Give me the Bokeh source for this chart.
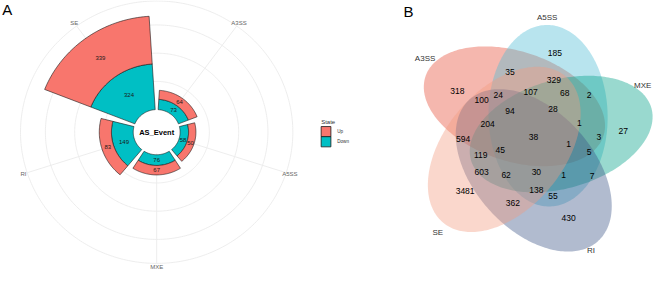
import numpy as np
from bokeh.plotting import figure
from bokeh.models import Range1d
from bokeh.embed import file_html
from bokeh.resources import INLINE
from bokeh.core.properties import value

# ---------------- data ----------------
# Panel A: AS events by type and direction
categories = ["A3SS", "A5SS", "MXE", "RI", "SE"]
up_counts = [64, 50, 67, 83, 339]
down_counts = [73, 58, 76, 149, 324]
state_names = ["Up", "Down"]
state_colors = ["#F8766D", "#00BFC4"]
radial_breaks = [200, 400, 600]
radial_limit = 770

# Panel B: five-set Venn diagram
venn_sets = ["A3SS", "A5SS", "MXE", "RI", "SE"]
venn_fill = ["#E64B35", "#4DBBD5", "#00A087", "#3C5488", "#F39B7F"]
venn_counts = [185, 35, 329, 318, 107, 68, 2, 24, 100, 94, 28, 204, 1, 27, 3,
               594, 38, 1, 5, 119, 45, 603, 62, 30, 1, 7, 3481, 138, 55, 362, 430]

# ---------------- layout (reference pixel space) ----------------
venn_label_xy = [(568, 57), (522, 77), (567, 85), (468, 97), (543, 98), (578, 99),
                 (603, 102), (510, 101), (493, 107), (522, 119), (566, 116),
                 (499, 132), (593, 131), (638, 140), (613, 146), (474, 148),
                 (546, 146), (582, 154), (603, 162), (492, 165), (512, 160),
                 (493, 183), (518, 187), (549, 183), (577, 186), (606, 188),
                 (476, 204), (549, 203), (566, 209), (525, 216), (582, 232)]
venn_set_label_xy = {"A3SS": (435, 63), "A5SS": (560, 19), "MXE": (658, 91),
                     "RI": (605, 267), "SE": (448, 248)}
# ellipse geometry per set: centre x, centre y, semi-major, semi-minor, axis angle
venn_shape = {"A3SS": (526.5, 113.5, 96.5, 58.0, 290.0),
              "A5SS": (561.0, 123.5, 96.5, 61.0, -1.0),
              "MXE": (574.4, 143.0, 96.5, 57.5, 72.6),
              "RI": (546.3, 181.6, 100.0, 62.0, 140.0),
              "SE": (516.1, 159.3, 100.0, 62.0, 217.5)}

FONT = value("Liberation Sans")

W, H = 653, 269
p = figure(width=W, height=H, x_range=Range1d(0, 669), y_range=Range1d(287, 1),
           output_backend="svg", toolbar_location=None, min_border=0,
           x_axis_type=None, y_axis_type=None)
p.grid.visible = False
p.outline_line_color = None
p.background_fill_color = "white"
p.border_fill_color = "white"

# ---------------- Panel A: polar stacked bars ----------------
CX, CY = 160.0, 141.0
R0, K = 24.0, 0.150


def rad(v):
    return R0 + K * np.asarray(v, dtype=float)


def pt(theta_deg, r):
    t = np.radians(theta_deg)
    return CX + r * np.sin(t), CY - r * np.cos(t)


step = 360.0 / len(categories)
half = 0.45 * step
r_out = float(rad(radial_limit))

tt = np.linspace(0, 360, 361)
gx, gy = [], []
for b in radial_breaks + [radial_limit]:
    x, y = pt(tt, float(rad(b)))
    gx.append(list(x)); gy.append(list(y))
for i in range(len(categories)):
    th = (i + 0.5) * step
    x, y = pt(np.array([th, th]), np.array([0.0, r_out]))
    gx.append(list(x)); gy.append(list(y))
p.multi_line(gx, gy, line_color="#EBEBEB", line_width=0.9)


def wedge(th, rin, rout):
    a = np.linspace(th - half, th + half, 48)
    xo, yo = pt(a, rout)
    xi, yi = pt(a[::-1], rin)
    return list(np.r_[xo, xi]), list(np.r_[yo, yi])


wx, wy, wc = [], [], []
lx, ly, lt = [], [], []
for i, cat in enumerate(categories):
    th = (i + 0.5) * step
    d, u = down_counts[i], up_counts[i]
    for lo, hi, col, val in [(0, d, state_colors[1], d), (d, d + u, state_colors[0], u)]:
        xs, ys = wedge(th, float(rad(lo)), float(rad(hi)))
        wx.append(xs); wy.append(ys); wc.append(col)
        mx, my = pt(th, float(rad((lo + hi) / 2.0)))
        lx.append(float(mx)); ly.append(float(my)); lt.append(str(val))
p.patches(wx, wy, fill_color=wc, line_color="#1A1A1A", line_width=0.6)

hx, hy = pt(tt, R0 - 1.5)
p.patch(list(hx), list(hy), fill_color="white", line_color=None)

p.text(lx, ly, text=lt, text_font=FONT, text_font_size="6px", text_color="#1A1A1A",
       text_align="center", text_baseline="middle")

cx_l, cy_l = [], []
for i in range(len(categories)):
    x, y = pt((i + 0.5) * step, r_out + 4)
    cx_l.append(float(x)); cy_l.append(float(y))
p.text(cx_l, cy_l, text=categories, text_font=FONT, text_font_size="6px",
       text_color="#666666", text_align="center", text_baseline="middle")

p.text([CX], [CY], text=["AS_Event"], text_font=FONT, text_font_size="7.5px",
       text_font_style="bold", text_color="black", text_align="center",
       text_baseline="middle")

LX, LY = 328.5, 130.0
p.text([LX], [LY], text=["State"], text_font=FONT, text_font_size="6px",
       text_color="#333333", text_align="left", text_baseline="middle")
key_h = 10.8
for j, (nm, col) in enumerate(zip(state_names, state_colors)):
    top = 135.0 + j * key_h
    p.quad(left=[LX], right=[LX + 10], top=[top], bottom=[top + key_h],
           fill_color=col, line_color="#1A1A1A", line_width=0.8)
    p.text([LX + 16.5], [top + key_h / 2], text=[nm], text_font=FONT,
           text_font_size="4.6px", text_color="#333333", text_align="left",
           text_baseline="middle")

p.text([7], [11], text=["A"], text_font=FONT, text_font_size="15px",
       text_color="black", text_align="center", text_baseline="middle")

# ---------------- Panel B: five-set Venn ----------------
t = np.linspace(0, 2 * np.pi, 240)
for name, col in zip(venn_sets, venn_fill):
    ecx, ecy, ea, eb, ang = venn_shape[name]
    psi = np.radians(ang)
    ux, uy = np.sin(psi), -np.cos(psi)
    vx, vy = np.cos(psi), np.sin(psi)
    xs = ecx + ea * np.cos(t) * ux + eb * np.sin(t) * vx
    ys = ecy + ea * np.cos(t) * uy + eb * np.sin(t) * vy
    p.patch(list(xs), list(ys), fill_color=col, fill_alpha=0.4, line_color=None)

p.text([q[0] for q in venn_label_xy], [q[1] for q in venn_label_xy],
       text=[str(c) for c in venn_counts], text_font=FONT, text_font_size="8.5px",
       text_color="black", text_align="center", text_baseline="middle")
p.text([venn_set_label_xy[s][0] for s in venn_sets],
       [venn_set_label_xy[s][1] for s in venn_sets], text=venn_sets,
       text_font=FONT, text_font_size="8px", text_color="#333333",
       text_align="center", text_baseline="middle")

p.text([418], [12.5], text=["B"], text_font=FONT, text_font_size="15px",
       text_color="black", text_align="center", text_baseline="middle")

open("out.html", "w").write(file_html(p, INLINE))
